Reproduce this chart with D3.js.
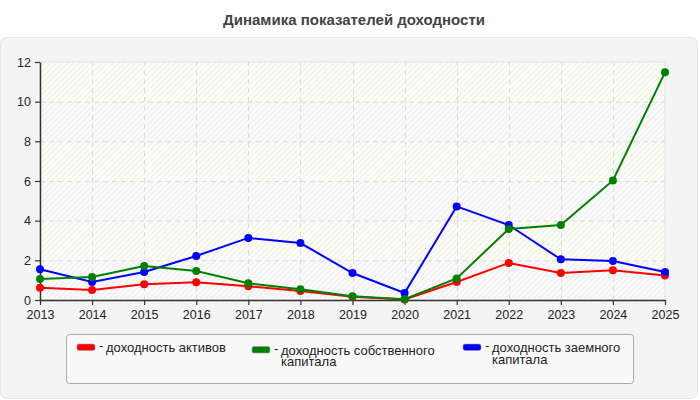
<!DOCTYPE html>
<html><head><meta charset="utf-8">
<script src="https://cdn.jsdelivr.net/npm/d3@7"></script>
<style>body{margin:0;background:#fff;font-family:"Liberation Sans",Arial,sans-serif}</style>
</head><body>
<svg id="c" width="700" height="400"></svg>
<script>
const years = [2013,2014,2015,2016,2017,2018,2019,2020,2021,2022,2023,2024,2025];
const assets = [0.62,0.50,0.79,0.89,0.69,0.45,0.17,0.03,0.91,1.87,1.36,1.50,1.24];
const equity = [1.06,1.16,1.71,1.46,0.84,0.54,0.19,0.04,1.09,3.58,3.78,6.03,11.48];
const debt = [1.55,0.91,1.41,2.22,3.13,2.87,1.36,0.35,4.72,3.78,2.05,1.97,1.41];
const yTicks = [0,2,4,6,8,10,12];
const seriesNames = ["доходность активов","доходность собственного капитала","доходность заемного капитала"];
const legendLines = [["доходность активов"],["доходность собственного","капитала"],["доходность заемного","капитала"]];
const colors = ["#ff0000","#008000","#0000ff"];
const title = "Динамика показателей доходности";

const svg = d3.select("#c");
const defs = svg.append("defs");
const pat = defs.append("pattern").attr("id","hatch").attr("patternUnits","userSpaceOnUse")
  .attr("width",4).attr("height",4).attr("patternTransform","rotate(45)");
pat.append("line").attr("x1",0).attr("y1",0).attr("x2",0).attr("y2",4)
  .attr("stroke","#e4e4e4").attr("stroke-width",1.2);

// outer panel
svg.append("rect").attr("x",0.5).attr("y",37.5).attr("width",697).attr("height",361)
  .attr("rx",6).attr("fill","#f4f4f4").attr("stroke","#e6e6e6");

svg.append("text").attr("x",354).attr("y",25).attr("text-anchor","middle")
  .attr("font-size",15).attr("font-weight","bold").attr("fill","#444").text(title);

const x = d3.scaleLinear().domain([2013,2025]).range([40,665]);
const y = d3.scaleLinear().domain([0,12]).range([300,62]);

// bands
const bands = d3.range(0,12,2);
svg.append("g").selectAll("rect").data(bands).join("rect")
  .attr("x",x(2013)).attr("width",x(2025)-x(2013))
  .attr("y",d=>y(d+2)).attr("height",d=>y(d)-y(d+2))
  .attr("fill",(d,i)=> i%2===1 ? "#fdfdf4" : "#fafafa");
svg.append("rect").attr("x",x(2013)).attr("width",x(2025)-x(2013))
  .attr("y",y(12)).attr("height",y(0)-y(12)).attr("fill","url(#hatch)");
svg.append("rect").attr("x",x(2013)).attr("width",x(2025)-x(2013))
  .attr("y",y(12)).attr("height",y(0)-y(12)).attr("fill","none").attr("stroke","#e2e2e2");

// grid
svg.append("g").selectAll("line").data(yTicks.slice(1,-1)).join("line")
  .attr("x1",x(2013)).attr("x2",x(2025)).attr("y1",d=>y(d)+0.5).attr("y2",d=>y(d)+0.5)
  .attr("stroke","#dcdcdc").attr("stroke-dasharray","5,4");
svg.append("g").selectAll("line").data(years.slice(1,-1)).join("line")
  .attr("y1",y(0)).attr("y2",y(12)).attr("x1",d=>Math.round(x(d))+0.5).attr("x2",d=>Math.round(x(d))+0.5)
  .attr("stroke","#dcdcdc").attr("stroke-dasharray","5,4");

// axes
const xAxis = svg.append("g").attr("transform",`translate(0,${y(0)})`)
  .call(d3.axisBottom(x).tickValues(years).tickFormat(d3.format("d")).tickSize(5).tickSizeOuter(0));
const yAxis = svg.append("g").attr("transform",`translate(${x(2013)},0)`)
  .call(d3.axisLeft(y).tickValues(yTicks).tickSize(5).tickSizeOuter(0));
[xAxis,yAxis].forEach(a=>{
  a.select(".domain").attr("stroke","#333").attr("stroke-width",1.5);
  a.selectAll(".tick line").attr("stroke","#333").attr("stroke-width",1.2);
  a.selectAll("text").attr("font-size",12.5).attr("fill","#222").attr("font-family","Liberation Sans, Arial, sans-serif");
});
xAxis.selectAll("text").attr("dy","0.85em");
yAxis.selectAll("text").attr("dx","-1");

// series
const data = [assets,equity,debt];
const line = d3.line().x((d,i)=>x(years[i])).y(d=>y(d));
const order = [0,2,1];
order.forEach(k=>{
  const g = svg.append("g");
  g.append("path").datum(data[k]).attr("d",line).attr("fill","none")
    .attr("stroke",colors[k]).attr("stroke-width",2);
  g.selectAll("circle").data(data[k]).join("circle")
    .attr("cx",(d,i)=>x(years[i])).attr("cy",d=>y(d)).attr("r",4).attr("fill",colors[k]);
});

// legend
svg.append("rect").attr("x",66.5).attr("y",334.5).attr("width",567).attr("height",49)
  .attr("rx",3).attr("fill","#f9f9f9").attr("stroke","#aaa");
const lx = [77,252,463];
const ly = [344,346.5,344];
legendLines.forEach((lines,i)=>{
  const g = svg.append("g").attr("transform",`translate(${lx[i]},${ly[i]})`);
  g.append("rect").attr("x",0).attr("y",0).attr("width",18).attr("height",6.5).attr("rx",2)
    .attr("fill",colors[i]).attr("stroke","#999").attr("stroke-width",0.6);
  g.append("text").attr("x",22).attr("y",6).attr("font-size",13).attr("fill","#222").text("-");
  const t = g.append("text").attr("x",29).attr("y",8).attr("font-size",13).attr("fill","#222");
  lines.forEach((s,j)=>t.append("tspan").attr("x",29).attr("dy",j===0?0:11.5).text(s));
});
</script>
</body></html>
